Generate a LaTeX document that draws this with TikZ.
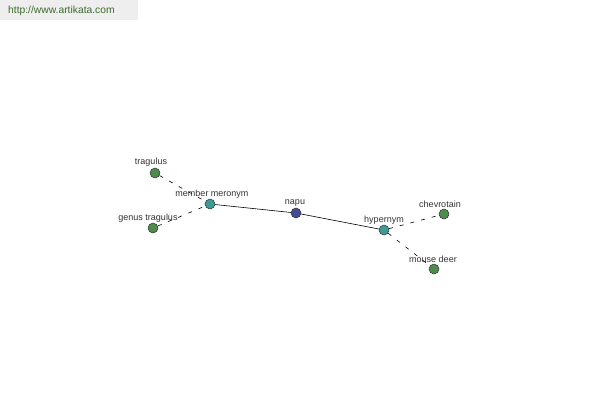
\documentclass[tikz,border=0pt]{standalone}
\usepackage{fontspec}
\setmainfont{Liberation Sans}
\definecolor{gnode}{HTML}{4E8C4E}
\definecolor{tnode}{HTML}{3E9A96}
\definecolor{bnode}{HTML}{414C94}
\definecolor{urlbg}{HTML}{EEEEEE}
\definecolor{urltx}{HTML}{3D6B2E}
\definecolor{lbl}{HTML}{333333}
\begin{document}
\begin{tikzpicture}[x=1pt,y=-1pt,
  dot/.style={circle,draw=black!80,line width=0.5pt,minimum size=10pt,inner sep=0pt},
  lab/.style={text=lbl,font=\fontsize{9}{10}\selectfont,inner sep=0pt},
  rel/.style={draw=black,line width=0.6pt},
  weak/.style={draw=black,line width=0.6pt,dash pattern=on 4pt off 7pt}]
\useasboundingbox[fill=white] (0,0) rectangle (600,400);
\fill[urlbg] (0,0) rectangle (138,20);
\node[anchor=west,text=urltx,font=\fontsize{10.3}{12}\selectfont,inner sep=0pt] (url) at (8,11) {http://www.artikata.com};
\node[dot,fill=bnode] (napu) at (296,213) {};
\node[dot,fill=tnode] (mm) at (210,204) {};
\node[dot,fill=tnode] (hyp) at (384,230) {};
\node[dot,fill=gnode] (trag) at (155,173) {};
\node[dot,fill=gnode] (gt) at (153,228) {};
\node[dot,fill=gnode] (chev) at (444,214) {};
\node[dot,fill=gnode] (md) at (434,269) {};
\draw[rel] (mm) -- (napu);
\draw[rel] (napu) -- (hyp);
\draw[weak] (trag) -- (mm);
\draw[weak] (gt) -- (mm);
\draw[weak] (hyp) -- (chev);
\draw[weak] (hyp) -- (md);
\node[lab] (lnapu) at (295,203) {napu};
\node[lab] (lmm) at (212,194) {member meronym};
\node[lab] (lhyp) at (384,220) {hypernym};
\node[lab] (ltrag) at (151,162) {tragulus};
\node[lab] (lgt) at (148,218) {genus tragulus};
\node[lab] (lchev) at (440,204) {chevrotain};
\node[lab] (lmd) at (433,259) {mouse deer};
\end{tikzpicture}
\end{document}
